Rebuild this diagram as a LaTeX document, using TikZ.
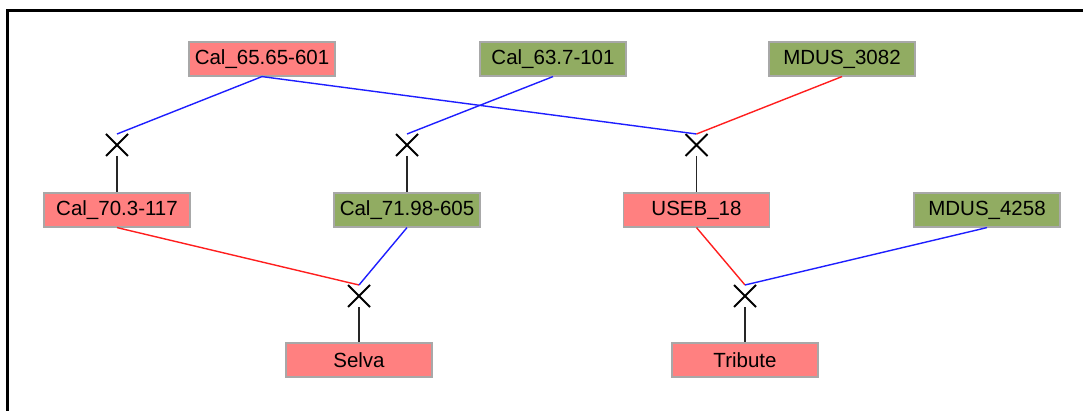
\documentclass[tikz,border=0pt]{standalone}
\usepackage{fontspec}
\setmainfont{Liberation Sans}
\usetikzlibrary{shapes.misc}
\definecolor{boxred}{RGB}{255,128,128}
\definecolor{boxgreen}{RGB}{145,172,98}
\definecolor{boxborder}{RGB}{168,168,168}
\definecolor{linkblue}{RGB}{30,30,255}
\definecolor{linkred}{RGB}{255,30,30}
\tikzset{
  gbox/.style={rectangle, draw=boxborder, line width=1.2pt, minimum width=146pt, minimum height=34pt, inner sep=0pt, font=\fontsize{20.5}{24}\selectfont},
  redbox/.style={gbox, fill=boxred},
  greenbox/.style={gbox, fill=boxgreen},
  cross/.style={cross out, draw=black, line width=2pt, minimum size=14pt, inner sep=0pt, outer sep=4pt},
  bl/.style={draw=linkblue, line width=1.4pt},
  rl/.style={draw=linkred, line width=1.4pt},
  kl/.style={draw=black!85, line width=1.4pt}
}
\begin{document}
\begin{tikzpicture}[x=1pt,y=-1pt]
\useasboundingbox (0,0) rectangle (1083,411);
\fill[white] (0,0) rectangle (1083,411);
\draw[line width=3pt] (7.5,411) -- (7.5,10.5) -- (1083,10.5);
% top row
\node[redbox] (a) at (262,59) {Cal\_65.65-601};
\node[greenbox] (b) at (553,59) {Cal\_63.7-101};
\node[greenbox] (c) at (842,59) {MDUS\_3082};
% upper crosses
\node[cross] (x1) at (117,145) {};
\node[cross] (x2) at (407,145) {};
\node[cross] (x3) at (696.5,145) {};
% middle row
\node[redbox] (d) at (117,210) {Cal\_70.3-117};
\node[greenbox] (e) at (407,210) {Cal\_71.98-605};
\node[redbox] (f) at (696.5,210) {USEB\_18};
\node[greenbox] (g) at (987,210) {MDUS\_4258};
% lower crosses
\node[cross] (x4) at (359,296) {};
\node[cross] (x5) at (745,296) {};
% bottom row
\node[redbox] (s) at (359,360) {Selva};
\node[redbox] (t) at (745,360) {Tribute};
% connectors
\draw[bl] (a.south) -- (x1.north);
\draw[bl] (b.south) -- (x2.north);
\draw[bl] (a.south) -- (x3.north);
\draw[rl] (c.south) -- (x3.north);
\draw[kl] (x1.south) -- (d.north);
\draw[kl] (x2.south) -- (e.north);
\draw[kl] (x3.south) -- (f.north);
\draw[rl] (d.south) -- (x4.north);
\draw[bl] (e.south) -- (x4.north);
\draw[rl] (f.south) -- (x5.north);
\draw[bl] (g.south) -- (x5.north);
\draw[kl] (x4.south) -- (s.north);
\draw[kl] (x5.south) -- (t.north);
\end{tikzpicture}
\end{document}
